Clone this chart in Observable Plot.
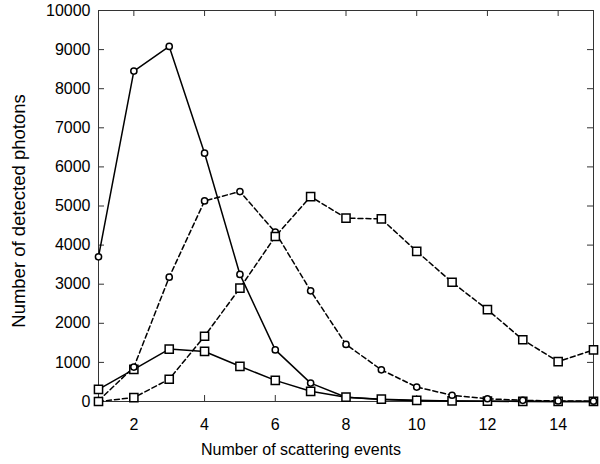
<!DOCTYPE html>
<html>
<head>
<meta charset="utf-8">
<script src="https://cdn.jsdelivr.net/npm/d3@7"></script>
<script src="https://cdn.jsdelivr.net/npm/@observablehq/plot@0.6"></script>
<style>
  html, body { margin: 0; padding: 0; background: #fff; }
  svg { font-family: "Liberation Sans", Arial, Helvetica, sans-serif; }
</style>
</head>
<body>
<div id="chart"></div>
<script>
const scatteringEvents = [1, 2, 3, 4, 5, 6, 7, 8, 9, 10, 11, 12, 13, 14, 15];
const solidCircle  = [3700, 8450, 9080, 6350, 3250, 1320, 470, 110, 50, 20, 10, 5, 2, 1, 0];
const solidSquare  = [310, 820, 1340, 1280, 900, 540, 260, 110, 60, 30, 15, 8, 5, 3, 2];
const dashedCircle = [20, 880, 3180, 5130, 5370, 4330, 2830, 1460, 810, 370, 160, 70, 30, 15, 8];
const dashedSquare = [0, 100, 570, 1670, 2900, 4220, 5240, 4690, 4670, 3840, 3050, 2350, 1580, 1020, 1320];
const xTicks = [2, 4, 6, 8, 10, 12, 14];
const yTicks = [0, 1000, 2000, 3000, 4000, 5000, 6000, 7000, 8000, 9000, 10000];
const xLabel = "Number of scattering events";
const yLabel = "Number of detected photons";

const toRows = vals => scatteringEvents.map((x, i) => ({x, y: vals[i]}));
const series = [
  {rows: toRows(solidCircle), dash: null, symbol: "circle"},
  {rows: toRows(solidSquare), dash: null, symbol: "square"},
  {rows: toRows(dashedCircle), dash: "5,3", symbol: "circle"},
  {rows: toRows(dashedSquare), dash: "5,3", symbol: "square"}
];

const marks = [];
for (const s of series) {
  marks.push(Plot.line(s.rows, {x: "x", y: "y", stroke: "#000", strokeWidth: 1.5, strokeDasharray: s.dash}));
}
for (const s of series) {
  marks.push(Plot.dot(s.rows, {
    x: "x", y: "y", symbol: s.symbol,
    r: s.symbol === "square" ? 4.6 : 3.1,
    fill: "#fff", stroke: "#000", strokeWidth: 1.5
  }));
}

const xMin = scatteringEvents[0], xMax = scatteringEvents[scatteringEvents.length - 1];
const yMin = yTicks[0], yMax = yTicks[yTicks.length - 1];

const chart = Plot.plot({
  width: 600,
  height: 464,
  marginLeft: 98,
  marginRight: 7,
  marginTop: 10,
  marginBottom: 63,
  style: {fontSize: "16px", fontFamily: "'Liberation Sans', Arial, sans-serif", color: "#000"},
  x: {domain: [xMin, xMax]},
  y: {domain: [yMin, yMax]},
  marks: [
    Plot.axisX(xTicks, {anchor: "bottom", tickSize: 0, tickPadding: 17, label: null, fontSize: 16, tickFormat: d3.format("d")}),
    Plot.axisY(yTicks, {anchor: "left", tickSize: 0, tickPadding: 8, label: null, fontSize: 16, letterSpacing: "1.2px", tickFormat: d3.format("d")}),
    // inward tick marks
    Plot.ruleX(xTicks, {x: d => d, y1: yMin, y2: yMin, insetTop: -6, stroke: "#333"}),
    Plot.ruleX(xTicks, {x: d => d, y1: yMax, y2: yMax, insetBottom: -6, stroke: "#333"}),
    Plot.ruleY(yTicks, {y: d => d, x1: xMin, x2: xMin, insetRight: -6, stroke: "#333"}),
    Plot.ruleY(yTicks, {y: d => d, x1: xMax, x2: xMax, insetLeft: -6, stroke: "#333"}),
    Plot.frame({stroke: "#333", strokeWidth: 1}),
    ...marks,
    Plot.text([xLabel], {frameAnchor: "bottom", textAnchor: "middle", lineAnchor: "top", dy: 42, dx: -45, fontSize: 16, fill: "#000"}),
    Plot.text([yLabel], {frameAnchor: "left", textAnchor: "middle", rotate: -90, lineAnchor: "middle", dx: -79, dy: 5, fontSize: 18.5, fill: "#000"})
  ]
});
document.getElementById("chart").appendChild(chart);
</script>
</body>
</html>
